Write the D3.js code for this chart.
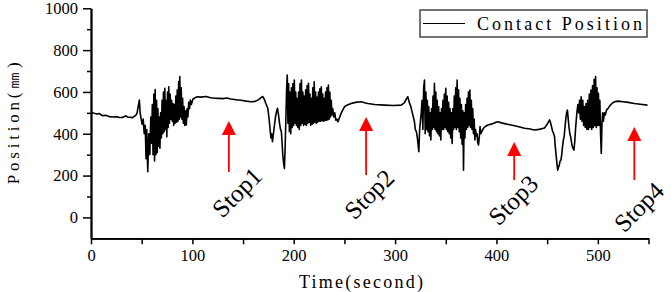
<!DOCTYPE html>
<html>
<head>
<meta charset="utf-8">
<script src="https://cdn.jsdelivr.net/npm/d3@7"></script>
<style>
  body { margin: 0; background: #fff; }
</style>
</head>
<body>
<svg id="chart" width="671" height="292"></svg>
<script>
// contact position trace, [time (s), position (mm)]
const quietStart = [[0,503],[3,498],[6,494],[8,497],[11.5,486],[14,488],[18,482],[22,480],[25,482],[28,478],[31,478],[34.5,486],[36,480],[41,477],[44.4,489]];

const burst1 = [[45.5,500],[46.5,530],[47.7,561],[48.5,500],[49.5,470],[50.5,445],[51.5,470],[52.5,400],[53.5,440],[54.3,280],[55,420],[56,218],[57,400],[58,300],[59,480],[59.8,355],[60.5,540],[61.2,300],[62,590],[62.7,270],[63.3,612],[64,300],[64.7,560],[65.3,310],[66,520],[66.7,340],[67.3,480],[68,331],[68.7,500],[69.4,380],[70.1,560],[70.8,400],[71.5,600],[72.2,410],[72.8,617],[73.5,420],[74.2,560],[74.8,386],[75.5,600],[76.1,430],[76.7,625],[77.4,450],[78.1,590],[78.8,470],[79.5,560],[80.2,460],[80.9,545],[81.6,440],[82.3,540],[83,450],[83.7,580],[84.4,455],[85.1,610],[85.8,460],[86.5,650],[87.1,470],[87.6,673],[88.3,480],[89,620],[89.7,470],[90.4,570],[91.1,450],[91.8,530],[92.5,440],[93.2,510],[94,442],[94.8,520],[95.6,480],[96.4,550],[97.2,520],[98,561],[99,540],[100.5,565],[102.5,572]];

const quiet1 = [[105,577],[108,575],[113.5,578],[118,572],[122,570],[126,569],[130,568],[134,571],[138,566],[143,563],[148,560],[153,556],[158,553],[162,555],[165,562],[167.5,572],[169.5,578]];

const burst2 = [[171,565],[172.5,545],[174.4,522],[175.5,480],[176.5,430],[177.5,380],[178.3,400],[179,362],[180,400],[181,442],[182,480],[183,505],[184,522],[185,490],[186,450],[187,420],[187.8,410],[188.5,360],[189.2,300],[190,260],[190.8,234],[191.5,330],[192.2,460],[192.9,600],[193.6,681],[194.3,450],[195,640],[195.7,410],[196.4,600],[197.1,400],[197.8,620],[198.5,430],[199.2,640],[199.9,440],[200.6,657],[201.3,450],[202,600],[202.7,440],[203.4,570],[204.1,430],[204.8,600],[205.5,420],[206.2,640],[206.9,440],[207.6,657],[208.3,450],[209,600],[209.7,440],[210.4,580],[211.1,445],[211.8,610],[212.5,440],[213.2,630],[213.9,450],[214.6,641],[215.3,455],[216,590],[216.7,440],[217.4,570],[218.1,445],[218.8,620],[219.5,450],[220.2,649],[220.9,455],[221.6,600],[222.3,450],[223,575],[223.7,455],[224.4,600],[225.1,460],[225.8,615],[226.5,460],[227.2,625],[227.9,462],[228.6,590],[229.3,460],[230,570],[230.7,462],[231.4,600],[232.1,465],[232.8,620],[233.5,466],[234.2,633],[234.9,470],[235.6,600],[236.3,480],[237,560],[237.7,490],[238.5,520],[239.5,480],[240.5,500],[241.5,465],[242.5,470],[243.5,457]];

const quiet2 = [[245,475],[247,500],[250,529],[253,538],[256.6,545],[261,550],[266.5,553],[270,548],[273,545],[280,540],[289.5,537],[298,535],[306,537],[309,548],[311,565],[312.5,577]];

const burst3 = [[314,550],[315.5,530],[317,500],[318,481],[319,460],[320,420],[321,410],[322,380],[323.4,314],[324.2,420],[325,460],[325.8,500],[326.6,560],[327.4,420],[328.2,620],[329,657],[329.7,400],[330.4,600],[331.1,420],[331.8,560],[332.5,410],[333.2,530],[333.9,390],[334.6,500],[335.3,370],[336,520],[336.7,420],[337.4,580],[338.1,430],[338.8,641],[339.5,420],[340.2,600],[340.9,410],[341.6,560],[342.3,400],[343,530],[343.7,390],[344.4,500],[345.1,370],[345.8,520],[346.5,420],[347.2,560],[347.9,420],[348.6,590],[349.3,430],[350,617],[350.7,420],[351.4,580],[352.1,410],[352.8,550],[353.5,400],[354.2,520],[354.9,380],[355.6,500],[356.3,354],[357,520],[357.7,420],[358.4,580],[359.1,430],[359.8,620],[360.5,420],[361.2,657],[361.9,430],[362.6,610],[363.3,410],[364,570],[364.7,380],[365.4,540],[366.1,350],[366.8,510],[367.5,226],[368.2,500],[368.9,380],[369.6,540],[370.3,420],[371,570],[371.7,430],[372.4,600],[373.1,440],[373.8,609],[374.5,430],[375.2,560],[375.9,420],[376.6,520],[377.3,400],[378,470],[378.7,370],[379.4,420],[380.1,390],[380.8,400],[381.5,360],[382.3,346],[383,380],[383.8,434],[384.5,400],[385.5,410]];

const quiet3 = [[387,425],[389,435],[391.5,442],[394.8,446],[398,452],[401.4,457],[405,452],[410,446],[414.5,442],[420,436],[427.7,426],[432,424],[437.5,418],[442,421],[447.4,428],[450,445],[452.4,466]];

const burst4 = [[453.5,450],[454.5,430],[455.5,410],[456.5,400],[457.3,386],[458,340],[458.8,300],[459.6,260],[460.4,226],[461.2,240],[462,250],[462.8,270],[463.6,274],[464.4,300],[465.2,340],[466,370],[466.8,386],[467.6,430],[468.4,470],[469.2,500],[470,513],[470.8,470],[471.6,430],[472.4,400],[473.2,386],[474,360],[474.8,340],[475.6,330],[476.4,322],[477.2,360],[478,420],[478.8,470],[479.6,513],[480.4,540],[481.2,500],[482,560],[482.8,470],[483.6,577],[484.4,460],[485.2,560],[486,440],[486.8,530],[487.6,430],[488.4,545],[489.2,420],[490,560],[490.8,420],[491.6,590],[492.4,430],[493.2,609],[494,420],[494.8,630],[495.6,430],[496.4,660],[497.1,440],[497.8,673],[498.5,430],[499.2,620],[499.9,440],[500.6,593],[501.3,440],[502,560],[502.7,400],[503.4,306],[504.1,450],[504.8,500],[505.5,460],[506.5,500],[507.5,490],[508.5,513]];

const quiet4 = [[510,520],[512,535],[514,545],[516.5,553],[520,556],[525,553],[530,550],[536,545],[542,541],[549,537]];

const xTicks = [0, 100, 200, 300, 400, 500];
const xMinor = [50, 150, 250, 350, 450, 550];
const yTicks = [0, 200, 400, 600, 800, 1000];
const yMinor = [100, 300, 500, 700, 900];

// arrow: time, tip/tail position, label anchor
const stops = [
  {label: 'Stop1', t: 136,   tip: 461, tail: 217, lt: 144,   lv: 120},
  {label: 'Stop2', t: 271.4, tip: 480, tail: 202, lt: 274.4, lv: 111},
  {label: 'Stop3', t: 417.5, tip: 360, tail: 178, lt: 416.5, lv: 83},
  {label: 'Stop4', t: 536,   tip: 432, tail: 178, lt: 540.5, lv: 50}
];

const contact = [].concat(quietStart, burst1, quiet1, burst2, quiet2, burst3, quiet3, burst4, quiet4);

let svg = d3.select('#chart');

let x = d3.scaleLinear().domain([0, 550]).range([91, 648.5]);
let y = d3.scaleLinear().domain([-100, 1000]).range([238.3, 8.3]);

const numFont = '"Liberation Serif", "Times New Roman", serif';

// the trace
let line = d3.line()
  .x(d => x(d[0]))
  .y(d => y(d[1]));

svg.append('path')
  .datum(contact)
  .attr('d', line)
  .attr('fill', 'none')
  .attr('stroke', '#000')
  .attr('stroke-width', 1.6)
  .attr('stroke-linejoin', 'round');

// axes
svg.append('g')
  .attr('transform', `translate(${x(0)},0)`)
  .call(d3.axisLeft(y).tickValues(yTicks).tickSize(8).tickSizeOuter(0).tickPadding(5).tickFormat(d3.format('d')));
svg.append('g')
  .attr('transform', `translate(${x(0)},0)`)
  .call(d3.axisLeft(y).tickValues(yMinor).tickSize(4).tickSizeOuter(0).tickFormat(''));

svg.append('g')
  .attr('transform', `translate(0,${y(-100)})`)
  .call(d3.axisBottom(x).tickValues(xTicks).tickSize(6).tickSizeOuter(0).tickPadding(5).tickFormat(d3.format('d')));
svg.append('g')
  .attr('transform', `translate(0,${y(-100)})`)
  .call(d3.axisBottom(x).tickValues(xMinor).tickSize(6).tickSizeOuter(0).tickFormat(''));

svg.selectAll('.domain').attr('stroke', '#000').attr('stroke-width', 1.8);
svg.selectAll('.tick line').attr('stroke', '#000').attr('stroke-width', 1.5);
svg.selectAll('.tick text')
  .attr('font-family', numFont)
  .attr('font-size', '16.5px')
  .attr('fill', '#000');

// axis titles
svg.append('text')
  .attr('transform', `translate(19,${y(450)}) rotate(-90)`)
  .attr('text-anchor', 'middle')
  .attr('font-family', numFont)
  .attr('font-size', '17px')
  .attr('textLength', 122)
  .attr('lengthAdjust', 'spacing')
  .text('Position(㎜)');

svg.append('text')
  .attr('x', 361)
  .attr('y', 288)
  .attr('text-anchor', 'middle')
  .attr('font-family', numFont)
  .attr('font-size', '18px')
  .attr('textLength', 124)
  .attr('lengthAdjust', 'spacing')
  .text('Time(second)');

// legend
let legend = svg.append('g');
legend.append('rect')
  .attr('x', 420).attr('y', 10)
  .attr('width', 227).attr('height', 27)
  .attr('fill', '#fff')
  .attr('stroke', '#444')
  .attr('stroke-width', 1.5);
legend.append('line')
  .attr('x1', 423).attr('x2', 465)
  .attr('y1', 23.5).attr('y2', 23.5)
  .attr('stroke', '#000')
  .attr('stroke-width', 1.2);
legend.append('text')
  .attr('x', 477).attr('y', 30)
  .attr('font-family', numFont)
  .attr('font-size', '18px')
  .attr('textLength', 165)
  .attr('lengthAdjust', 'spacing')
  .text('Contact Position');

// stop arrows
let stopG = svg.append('g').selectAll('g')
  .data(stops)
  .join('g');

stopG.append('line')
  .attr('x1', d => x(d.t)).attr('x2', d => x(d.t))
  .attr('y1', d => y(d.tail)).attr('y2', d => y(d.tip) + 10)
  .attr('stroke', '#ff0000')
  .attr('stroke-width', 1.8);

stopG.append('path')
  .attr('d', d => {
    let cx = x(d.t), ty = y(d.tip);
    return `M${cx},${ty} L${cx - 7},${ty + 14} L${cx + 7},${ty + 14} Z`;
  })
  .attr('fill', '#ff0000');

stopG.append('text')
  .attr('transform', d => `translate(${x(d.lt)},${y(d.lv)}) rotate(-45)`)
  .attr('text-anchor', 'middle')
  .attr('dominant-baseline', 'central')
  .attr('font-family', numFont)
  .attr('font-size', '25px')
  .text(d => d.label);
</script>
</body>
</html>
